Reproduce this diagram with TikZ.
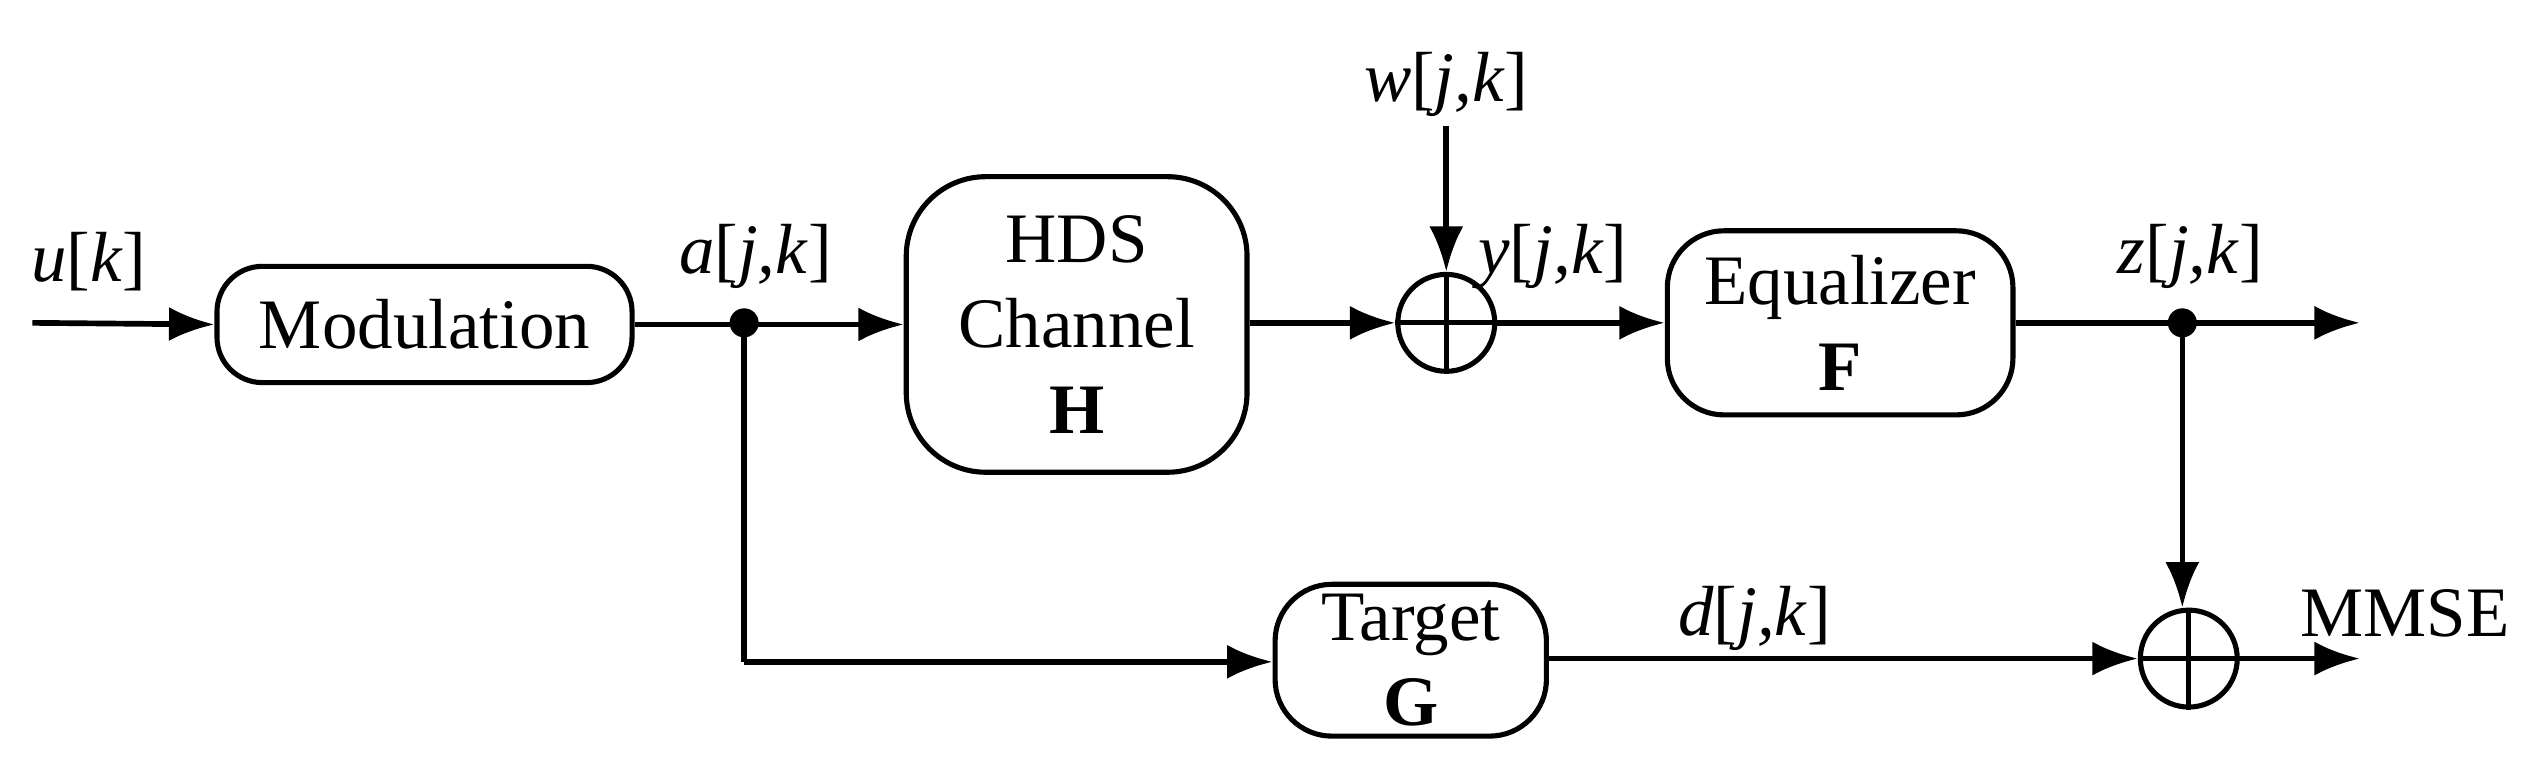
\documentclass[tikz,border=0pt]{standalone}
\usepackage{fontspec}
\setmainfont{Liberation Serif}
\usetikzlibrary{arrows.meta}
\newcommand{\sig}[2]{\textit{#1}[\textit{#2}]}
\begin{document}
\begin{tikzpicture}[x=0.01cm,y=-0.01cm,
  every node/.style={font=\fontsize{12.5}{15}\selectfont},
  blk/.style={draw,line width=0.9pt,rounded corners=8pt,inner sep=0pt,align=center},
  sum/.style={draw,line width=0.9pt,circle,minimum size=0.6cm,inner sep=0pt},
  lbl/.style={inner sep=0pt},
  arr/.style={line width=1pt,-{Latex[length=8pt,width=6pt]}},
  ln/.style={line width=1pt}]
\useasboundingbox (0,0) rectangle (1568,484);
% blocks
\node[blk,minimum width=2.57cm,minimum height=0.72cm] (mod) at (263,201) {Modulation};
\node[blk,minimum width=2.11cm,minimum height=1.83cm,rounded corners=14pt] (hds) at (667,201) {HDS\\Channel\\\textbf{H}};
\node[blk,minimum width=2.14cm,minimum height=1.14cm,rounded corners=10pt] (eq) at (1140,200) {Equalizer\\\textbf{F}};
\node[blk,minimum width=1.68cm,minimum height=0.94cm,rounded corners=10pt] (tg) at (874,409) {Target\\\textbf{G}};
\node[sum] (s1) at (896,200) {};
\node[sum] (s2) at (1356,408) {};
\draw[line width=0.9pt] (s1.north)--(s1.south) (s1.west)--(s1.east);
\draw[line width=0.9pt] (s2.north)--(s2.south) (s2.west)--(s2.east);
% coordinates
\coordinate (in) at (20,200);
\coordinate (da) at (461,200);
\coordinate (dz) at (1352,200);
\coordinate (corner) at (461,410);
\coordinate (wtop) at (896,78);
\coordinate (out1) at (1462,200);
\coordinate (out2) at (1462,408);
% connectors
\draw[arr] (in) -- (mod.west);
\draw[arr] (mod.east) -- (hds.west |- mod.east);
\draw[arr] (hds.east |- s1) -- (s1.west);
\draw[arr] (wtop) -- (s1.north);
\draw[arr] (s1.east) -- (eq.west |- s1.east);
\draw[arr] (eq.east) -- (out1);
\draw[ln] (da) -- (corner);
\draw[arr] (corner) -- (tg.west |- corner);
\draw[arr] (tg.east |- s2) -- (s2.west);
\draw[arr] (dz) -- (dz |- s2.north);
\draw[arr] (s2.east) -- (out2);
\fill (da) circle (0.09cm);
\fill (dz) circle (0.09cm);
% labels
\node[lbl] (lu) at (55,162) {\sig{u}{k}};
\node[lbl] (la) at (468,159) {\sig{a}{j,k}};
\node[lbl] (lw) at (896,52) {\sig{w}{j,k}};
\node[lbl] (ly) at (962,159) {\sig{y}{j,k}};
\node[lbl] (lz) at (1357,159) {\sig{z}{j,k}};
\node[lbl] (ld) at (1087,383) {\sig{d}{j,k}};
\node[lbl] (lm) at (1490,380) {MMSE};
\end{tikzpicture}
\end{document}
